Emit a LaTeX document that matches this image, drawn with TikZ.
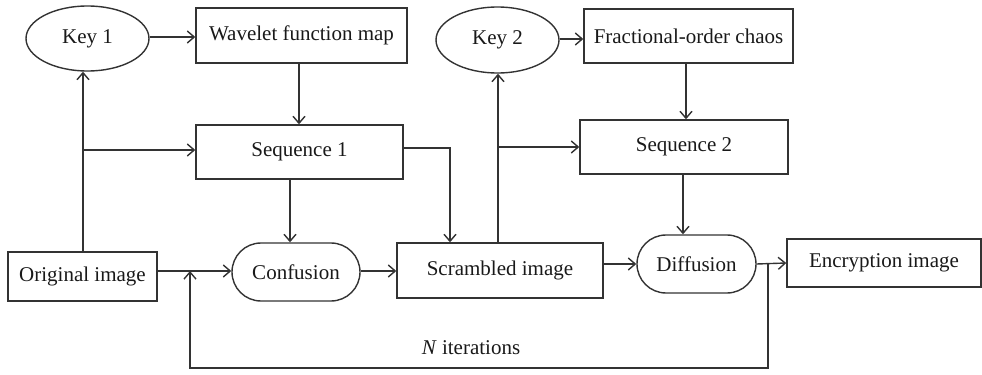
\documentclass[tikz,border=0pt]{standalone}
\usepackage{fontspec}
\setmainfont{Liberation Serif}
\usetikzlibrary{arrows.meta,shapes.geometric,shapes.misc,calc}
\begin{document}
\begin{tikzpicture}[x=0.5pt,y=-0.5pt,
  every node/.style={font=\fontsize{10.5}{12}\selectfont, text=black!90, inner sep=0pt},
  box/.style={draw=black!80, line width=0.7pt, rectangle},
  keynode/.style={draw=black!80, line width=0.7pt, ellipse, minimum width=61.5pt, minimum height=32.5pt},
  procnode/.style={draw=black!80, line width=0.7pt, rounded rectangle, minimum height=29pt},
  arr/.style={draw=black!80, line width=0.7pt, -{Straight Barb[length=3.5pt,width=6pt]}},
  ln/.style={draw=black!80, line width=0.7pt}]
\useasboundingbox (0,0) rectangle (982,375);

\node[keynode] (key1) at (87.5,38.5) {Key 1};
\node[box, minimum width=105.5pt, minimum height=27.5pt] (wav) at (301.5,35.5) {Wavelet function map};
\node[box, minimum width=103.5pt, minimum height=27pt] (seq1) at (299.5,152) {Sequence 1};
\node[box, minimum width=74.5pt, minimum height=24.5pt] (orig) at (82.5,276.5) {Original image};
\node[procnode, minimum width=64pt] (conf) at (296,272) {Confusion};
\node[box, minimum width=103pt, minimum height=27.5pt] (scr) at (500,270.5) {Scrambled image};
\node[keynode, minimum height=33pt] (key2) at (497.5,40) {Key 2};
\node[box, minimum width=104.5pt, minimum height=27pt] (frac) at (688.5,36) {Fractional-order chaos};
\node[box, minimum width=104pt, minimum height=27pt] (seq2) at (684,147) {Sequence 2};
\node[procnode, minimum width=59.5pt] (diff) at (696.5,264) {Diffusion};
\node[box, minimum width=97pt, minimum height=24pt] (enc) at (884,263) {Encryption image};

% left part
\draw[arr] ([yshift=0.75pt]key1.east) -- ([yshift=0.75pt]key1.east -| wav.west);
\draw[arr] ([xshift=-1.25pt]wav.south) -- ([xshift=-1.25pt]wav.south |- seq1.north);
\draw[arr] ([xshift=0.25pt]orig.north) -- ([xshift=0.25pt]orig.north |- key1.south);
\coordinate (b1) at (83,150);
\draw[arr] (b1) -- (b1 -| seq1.west);
\draw[arr] ([xshift=-4.75pt]seq1.south) -- ([xshift=-4.75pt]seq1.south |- conf.north);
\draw[arr] ([yshift=2pt]seq1.east) -| ([xshift=-25pt]scr.north);

% right part
\draw[arr] ([xshift=-1pt]scr.north) -- ([xshift=-1pt]scr.north |- key2.south);
\coordinate (b2) at (498,147);
\draw[arr] (b2) -- (b2 -| seq2.west);
\draw[arr] ([yshift=0.5pt]key2.east) -- ([yshift=0.5pt]key2.east -| frac.west);
\draw[arr] ([xshift=-1.25pt]frac.south) -- ([xshift=-1.25pt]frac.south |- seq2.north);
\draw[arr] (seq2.south -| diff.north) ++(-6.75pt,0) coordinate (s2b) -- (s2b |- diff.north);

% main line
\draw[arr] ([yshift=2.75pt]orig.east) -- ([yshift=2.75pt]orig.east -| conf.west);
\draw[arr] ([yshift=0.5pt]conf.east) -- ([yshift=0.5pt]conf.east -| scr.west);
\draw[arr] (diff.west -| scr.east) -- (diff.west);
\draw[arr] (diff.east) -- (enc.west);

% feedback
\coordinate (f0) at (768,263);
\coordinate (f1) at (768,368);
\coordinate (f2) at (190,368);
\coordinate (f3) at (190,271);
\draw[arr] (f0) -- (f1) -- (f2) -- (f3);
\node (nit) at (471,348) {\textit{N} iterations};
\end{tikzpicture}
\end{document}
